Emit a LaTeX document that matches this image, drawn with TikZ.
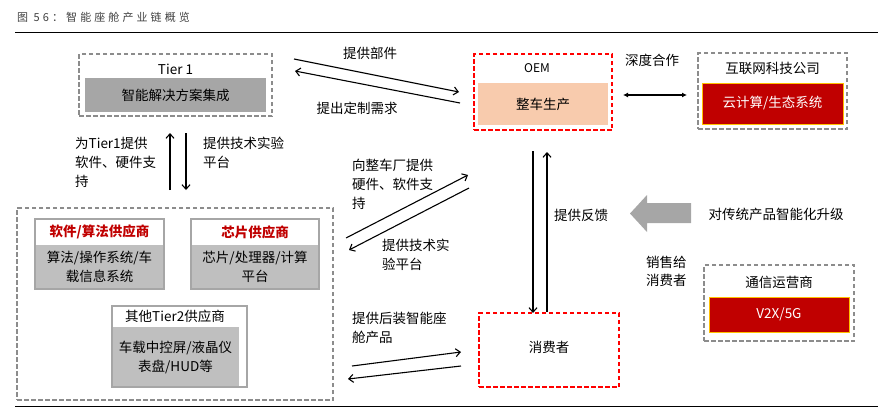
\documentclass[tikz,border=0pt]{standalone}
\usepackage{fontspec}
\setmainfont{Noto Sans CJK SC}
\newfontfamily\titlefont[LetterSpace=28]{Noto Sans CJK SC}
\usetikzlibrary{arrows.meta,positioning,calc}
\definecolor{ChainRed}{HTML}{FF0000}
\definecolor{ChainDark}{HTML}{C00000}
\definecolor{ChainGold}{HTML}{FFC000}
\definecolor{ChainPeach}{HTML}{F8CBAD}
\definecolor{ChainGray}{HTML}{A6A6A6}
\definecolor{ChainLight}{HTML}{BFBFBF}
\definecolor{ChainLine}{HTML}{8C8C8C}
\definecolor{ChainTitle}{HTML}{404040}

\begin{document}
\begin{tikzpicture}[x=1pt,y=-1pt,
    inner sep=0pt,
    font=\fontsize{13.5}{19}\selectfont,
    frame/.style={draw=ChainLine,dash pattern=on 4.5pt off 2.5pt,line width=1.5pt},
    redframe/.style={frame,draw=ChainRed},
    greyfill/.style={fill=ChainGray},
    body/.style={fill=ChainLight,align=center},
    redfill/.style={fill=ChainDark,draw=ChainGold,line width=0.8pt,text=white},
    peachfill/.style={fill=ChainPeach},
    supplier/.style={draw=ChainGray,line width=1.2pt},
    head/.style={text=ChainDark,font=\fontsize{13.5}{19}\selectfont\bfseries},
    note/.style={align=left,anchor=north west},
    arrow/.style={-{Straight Barb[length=4.5pt,width=8pt]},line width=1.1pt},
    both/.style={{Latex[length=5pt,width=5pt]}-{Latex[length=5pt,width=5pt]},line width=1.1pt}
  ]
    \useasboundingbox (0,0) rectangle (894,410);
    \node[anchor=west,text=ChainTitle,font=\titlefont\fontsize{11}{13}\selectfont] (title) at (17,17) {图 56：智能座舱产业链概览};
    \draw[line width=1pt] (15,32) -- (878,32);
    \draw[line width=1pt] (15,406) -- (878,406);

    \node[frame,minimum width=193pt,minimum height=62pt] (tier1) at (175.5,85) {};
    \node (tier1name) at (175.5,69) {Tier 1};
    \node[greyfill,minimum width=181pt,minimum height=34pt] (tier1work) at (175.5,95) {智能解决方案集成};

    \node[redframe,minimum width=138pt,minimum height=76pt] (oem) at (543,92) {};
    \node[font=\fontsize{12}{14}\selectfont] (oemname) at (537,68) {OEM};
    \node[peachfill,minimum width=130pt,minimum height=42pt] (oemwork) at (543,104) {整车生产};

    \node[frame,minimum width=149pt,minimum height=76pt] (internet) at (772.5,91) {};
    \node (internetname) at (772.5,68) {互联网科技公司};
    \node[redfill,minimum width=141pt,minimum height=41pt] (internetwork) at (772.5,103.5) {云计算/生态系统};

    \node[frame,minimum width=316pt,minimum height=192pt] (tier2) at (175,304) {};
    \node[body,minimum width=129pt,minimum height=44pt] (softwork) at (99.5,267) {算法/操作系统/车\\载信息系统};
    \node[supplier,minimum width=129pt,minimum height=70pt] (soft) at (99.5,254) {};
    \node[head] (softname) at (99.5,232) {软件/算法供应商};
    \node[body,minimum width=128pt,minimum height=44pt] (chipwork) at (255,267) {芯片/处理器/计算\\平台};
    \node[supplier,minimum width=128pt,minimum height=70pt] (chip) at (255,254) {};
    \node[head] (chipname) at (255,232) {芯片供应商};
    \node[body,minimum width=127pt,minimum height=60pt] (otherwork) at (175.5,357) {车载中控屏/液晶仪\\表盘/HUD等};
    \node[supplier,minimum width=135pt,minimum height=81pt] (other) at (179.5,346.5) {};
    \node (othername) at (175,316) {其他Tier2供应商};

    \node[redframe,minimum width=140pt,minimum height=74pt] (consumer) at (549,350) {};
    \node (consumername) at (549,347) {消费者};

    \node[frame,minimum width=150pt,minimum height=76pt] (telecom) at (779,303) {};
    \node (telecomname) at (779,282) {通信运营商};
    \node[redfill,minimum width=140pt,minimum height=35pt] (telecomwork) at (779,314.5) {V2X/5G};

    \fill[ChainGray] (691,203) -- (647,203) -- (647,195) -- (630,213.5) -- (647,232) -- (647,223) -- (691,223) -- cycle;

    \node (partslabel) at (370,53) {提供部件};
    \node (needslabel) at (357,108) {提出定制需求};
    \node (cooplabel) at (652,60) {深度合作};
    \node[note] (uplabel) at (75,137) {为Tier1提供\\软件、硬件支\\持};
    \node[note] (downlabel) at (203,137) {提供技术实验\\平台};
    \node[note] (oemuplabel) at (352,159) {向整车厂提供\\硬件、软件支\\持};
    \node[note] (oemdownlabel) at (382,239) {提供技术实\\验平台};
    \node[note] (retrolabel) at (352,312) {提供后装智能座\\舱产品};
    \node (feedbacklabel) at (581,215) {提供反馈};
    \node (upgradelabel) at (776,214) {对传统产品智能化升级};
    \node[note,font=\fontsize{13.5}{17.5}\selectfont] (salelabel) at (646,256) {销售给\\消费者};

    \coordinate (partsfrom) at (294,59);
    \coordinate (partsto) at (459,92);
    \coordinate (needsfrom) at (460,103);
    \coordinate (needsto) at (295,71);
    \coordinate (coopleft) at (623,95);
    \coordinate (coopright) at (687,95);
    \coordinate (upfrom) at (170,190);
    \coordinate (upto) at (170,133);
    \coordinate (downfrom) at (186,133);
    \coordinate (downto) at (186,190);
    \coordinate (supplyfrom) at (346,238);
    \coordinate (supplyto) at (468,175);
    \coordinate (platformfrom) at (469,188);
    \coordinate (platformto) at (349,250);
    \coordinate (retrofrom) at (352,366);
    \coordinate (retroto) at (461,352);
    \coordinate (backfrom) at (461,366);
    \coordinate (backto) at (348,379);
    \coordinate (salefrom) at (533,151);
    \coordinate (saleto) at (533,313);
    \coordinate (feedbackfrom) at (547,312);
    \coordinate (feedbackto) at (547,152);

    \draw[arrow] (partsfrom) -- (partsto);
    \draw[arrow] (needsfrom) -- (needsto);
    \draw[both] (coopleft) -- (coopright);
    \draw[arrow] (upfrom) -- (upto);
    \draw[arrow] (downfrom) -- (downto);
    \draw[arrow] (supplyfrom) -- (supplyto);
    \draw[arrow] (platformfrom) -- (platformto);
    \draw[arrow] (retrofrom) -- (retroto);
    \draw[arrow] (backfrom) -- (backto);
    \draw[arrow] (salefrom) -- (saleto);
    \draw[arrow] (feedbackfrom) -- (feedbackto);
  \end{tikzpicture}
\end{document}
